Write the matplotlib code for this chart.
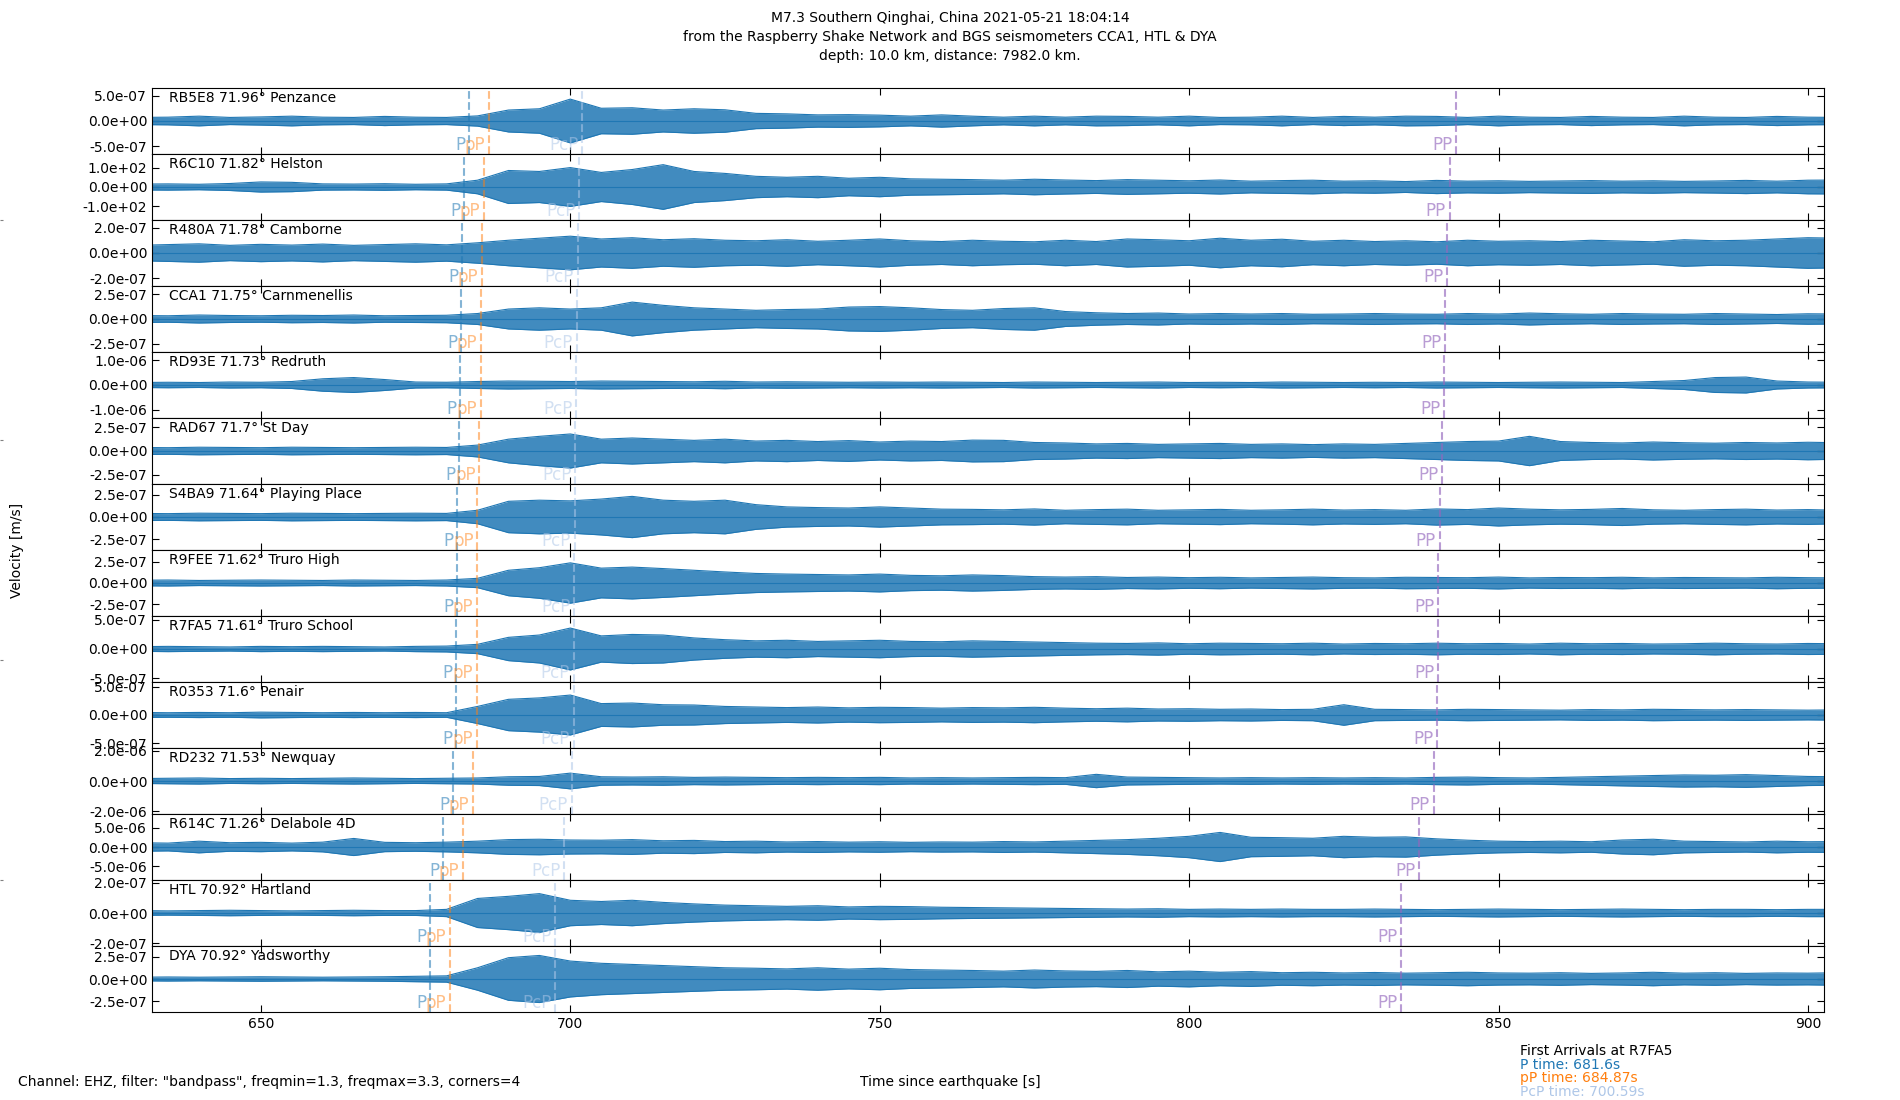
import numpy as np
import matplotlib.pyplot as plt
from matplotlib.ticker import FormatStrFormatter

# Stations (top to bottom)
codes = ['RB5E8', 'R6C10', 'R480A', 'CCA1', 'RD93E', 'RAD67', 'S4BA9',
         'R9FEE', 'R7FA5', 'R0353', 'RD232', 'R614C', 'HTL', 'DYA']
distances = ['71.96', '71.82', '71.78', '71.75', '71.73', '71.7', '71.64',
             '71.62', '71.61', '71.6', '71.53', '71.26', '70.92', '70.92']
places = ['Penzance', 'Helston', 'Camborne', 'Carnmenellis', 'Redruth', 'St Day',
          'Playing Place', 'Truro High', 'Truro School', 'Penair', 'Newquay',
          'Delabole 4D', 'Hartland', 'Yadsworthy']

# labelled y tick value and y-axis half range per station
tick_vals = [5e-7, 1e2, 2e-7, 2.5e-7, 1e-6, 2.5e-7, 2.5e-7,
             2.5e-7, 5e-7, 5e-7, 2e-6, 5e-6, 2e-7, 2.5e-7]
y_half = [6.48e-7, 170, 2.59e-7, 3.32e-7, 1.33e-6, 3.49e-7, 3.68e-7,
          3.89e-7, 5.67e-7, 5.79e-7, 2.18e-6, 8.5e-6, 2.18e-7, 3.68e-7]

# phase arrival times [s]
p_times = [683.7, 682.8, 682.5, 682.3, 682.2, 682.0, 681.7,
           681.65, 681.6, 681.55, 681.0, 679.5, 677.4, 677.4]
pP_times = [686.9, 686.1, 685.7, 685.55, 685.5, 685.3, 685.0,
            684.9, 684.87, 684.85, 684.25, 682.7, 680.6, 680.6]
pcp_times = [701.9, 701.45, 701.2, 701.07, 700.97, 700.8, 700.7,
             700.62, 700.59, 700.52, 700.2, 699.05, 697.6, 697.6]
PP_times = [843.2, 842.1, 841.7, 841.4, 841.2, 840.9, 840.5,
            840.3, 840.25, 840.1, 839.5, 837.2, 834.3, 834.3]

# trace envelope (peak amplitude) every 5 s from 630 s to 905 s,
# as a multiple of each station's labelled tick value
env_times = np.arange(630, 906, 5)
envelopes = [
    [0.14, 0.15, 0.19, 0.14, 0.16, 0.19, 0.15, 0.14, 0.18, 0.15, 0.14,
     0.20, 0.43, 0.48, 0.86, 0.50, 0.52, 0.43, 0.48, 0.44, 0.30,
     0.28, 0.24, 0.25, 0.23, 0.19, 0.24,
     0.19, 0.15, 0.19, 0.15, 0.19, 0.18, 0.15, 0.19, 0.14, 0.15, 0.19, 0.14, 0.18, 0.15,
     0.19, 0.18, 0.14, 0.19, 0.15, 0.14, 0.18, 0.15, 0.14, 0.19, 0.15, 0.14, 0.18, 0.15, 0.14],
    [0.15, 0.16, 0.14, 0.18, 0.26, 0.24, 0.16, 0.15, 0.17, 0.14, 0.16,
     0.35, 0.85, 0.80, 1.00, 0.75, 0.90, 1.15, 0.80, 0.70, 0.55,
     0.50, 0.55, 0.45, 0.50, 0.42, 0.40,
     0.38, 0.35, 0.40, 0.36, 0.33, 0.38, 0.35, 0.32, 0.36, 0.30, 0.33, 0.35, 0.30, 0.32,
     0.28, 0.34, 0.30, 0.32, 0.29, 0.31, 0.33, 0.30, 0.32, 0.29, 0.31, 0.34, 0.30, 0.35, 0.36],
    [0.30, 0.33, 0.36, 0.30, 0.34, 0.31, 0.35, 0.30, 0.33, 0.36, 0.32,
     0.40, 0.50, 0.58, 0.66, 0.55, 0.60, 0.52, 0.56, 0.50, 0.48,
     0.52, 0.46, 0.50, 0.55, 0.48, 0.45,
     0.50, 0.46, 0.44, 0.50, 0.45, 0.55, 0.52, 0.48, 0.58, 0.50, 0.54, 0.46, 0.50, 0.45,
     0.48, 0.44, 0.50, 0.46, 0.48, 0.45, 0.50, 0.47, 0.44, 0.52, 0.48, 0.50, 0.55, 0.60, 0.58],
    [0.14, 0.13, 0.16, 0.14, 0.13, 0.15, 0.14, 0.16, 0.13, 0.14, 0.15,
     0.22, 0.40, 0.45, 0.40, 0.45, 0.68, 0.55, 0.45, 0.40, 0.35,
     0.38, 0.40, 0.48, 0.50, 0.45, 0.38,
     0.35, 0.42, 0.45, 0.30, 0.25, 0.22, 0.24, 0.20, 0.22, 0.20, 0.22, 0.19, 0.20, 0.22,
     0.20, 0.19, 0.22, 0.20, 0.24, 0.21, 0.19, 0.22, 0.20, 0.19, 0.22, 0.20, 0.18, 0.21, 0.20],
    [0.10, 0.11, 0.10, 0.12, 0.11, 0.14, 0.25, 0.30, 0.22, 0.12, 0.11,
     0.14, 0.16, 0.15, 0.14, 0.16, 0.15, 0.14, 0.13, 0.15, 0.12,
     0.13, 0.12, 0.11, 0.12, 0.11, 0.12,
     0.11, 0.10, 0.12, 0.11, 0.10, 0.11, 0.12, 0.10, 0.11, 0.10, 0.12, 0.11, 0.10, 0.11,
     0.10, 0.12, 0.11, 0.10, 0.11, 0.12, 0.11, 0.10, 0.14, 0.18, 0.30, 0.32, 0.16, 0.12, 0.11],
    [0.15, 0.14, 0.16, 0.15, 0.14, 0.16, 0.15, 0.14, 0.15, 0.16, 0.15,
     0.25, 0.50, 0.62, 0.72, 0.50, 0.55, 0.50, 0.45, 0.50, 0.42,
     0.45, 0.40, 0.44, 0.38, 0.42, 0.40,
     0.46, 0.45, 0.36, 0.34, 0.30, 0.32, 0.28, 0.30, 0.32, 0.28, 0.30, 0.27, 0.30, 0.28,
     0.32, 0.36, 0.40, 0.42, 0.62, 0.40, 0.36, 0.34, 0.38, 0.35, 0.33, 0.36, 0.34, 0.37, 0.35],
    [0.16, 0.15, 0.17, 0.16, 0.15, 0.17, 0.16, 0.15, 0.16, 0.17, 0.16,
     0.30, 0.70, 0.75, 0.72, 0.80, 0.92, 0.75, 0.70, 0.75, 0.55,
     0.45, 0.42, 0.40, 0.45, 0.40, 0.35,
     0.34, 0.32, 0.36, 0.30, 0.33, 0.35, 0.30, 0.32, 0.34, 0.30, 0.32, 0.35, 0.31, 0.33,
     0.30, 0.36, 0.33, 0.40, 0.35, 0.32, 0.34, 0.38, 0.32, 0.30, 0.33, 0.35, 0.31, 0.33, 0.30],
    [0.13, 0.14, 0.12, 0.13, 0.14, 0.13, 0.12, 0.14, 0.13, 0.12, 0.14,
     0.22, 0.60, 0.72, 0.95, 0.70, 0.75, 0.68, 0.60, 0.52, 0.45,
     0.42, 0.40, 0.38, 0.42, 0.36, 0.34,
     0.38, 0.35, 0.30, 0.28, 0.30, 0.26, 0.28, 0.25, 0.27, 0.24, 0.26, 0.28, 0.25, 0.24,
     0.27, 0.26, 0.25, 0.28, 0.24, 0.26, 0.25, 0.27, 0.24, 0.26, 0.25, 0.24, 0.27, 0.25, 0.24],
    [0.08, 0.09, 0.08, 0.07, 0.09, 0.08, 0.09, 0.08, 0.07, 0.09, 0.10,
     0.16, 0.40, 0.48, 0.72, 0.45, 0.50, 0.48, 0.38, 0.32, 0.28,
     0.30, 0.26, 0.28, 0.30, 0.26, 0.25,
     0.28, 0.26, 0.24, 0.22, 0.20, 0.19, 0.21, 0.18, 0.20, 0.19, 0.18, 0.20, 0.17, 0.19,
     0.18, 0.20, 0.18, 0.19, 0.17, 0.20, 0.18, 0.19, 0.17, 0.18, 0.20, 0.18, 0.17, 0.19, 0.18],
    [0.09, 0.08, 0.09, 0.08, 0.10, 0.09, 0.08, 0.09, 0.08, 0.09, 0.08,
     0.30, 0.55, 0.60, 0.70, 0.40, 0.42, 0.36, 0.35, 0.30, 0.28,
     0.26, 0.28, 0.25, 0.27, 0.26, 0.24,
     0.26, 0.25, 0.27, 0.24, 0.22, 0.24, 0.21, 0.22, 0.20, 0.21, 0.19, 0.20, 0.36, 0.20,
     0.19, 0.18, 0.20, 0.19, 0.18, 0.17, 0.19, 0.18, 0.20, 0.19, 0.18, 0.19, 0.18, 0.17, 0.18],
    [0.08, 0.09, 0.10, 0.08, 0.09, 0.08, 0.09, 0.10, 0.09, 0.08, 0.09,
     0.10, 0.14, 0.15, 0.26, 0.14, 0.13, 0.14, 0.12, 0.13, 0.12,
     0.11, 0.12, 0.11, 0.12, 0.10, 0.11,
     0.10, 0.11, 0.12, 0.11, 0.22, 0.13, 0.12, 0.11, 0.10, 0.11, 0.10, 0.11, 0.10, 0.11,
     0.10, 0.12, 0.13, 0.11, 0.10, 0.12, 0.14, 0.16, 0.18, 0.20, 0.19, 0.21, 0.18, 0.15, 0.14],
    [0.22, 0.20, 0.30, 0.22, 0.24, 0.20, 0.25, 0.44, 0.24, 0.22, 0.25,
     0.30, 0.38, 0.40, 0.36, 0.35, 0.38, 0.32, 0.34, 0.28, 0.30,
     0.26, 0.28, 0.25, 0.27, 0.24, 0.26,
     0.25, 0.28, 0.26, 0.30, 0.34, 0.38, 0.45, 0.55, 0.75, 0.50, 0.48, 0.45, 0.55, 0.50,
     0.52, 0.42, 0.35, 0.30, 0.28, 0.30, 0.27, 0.36, 0.40, 0.30, 0.28, 0.26, 0.30, 0.27, 0.28],
    [0.08, 0.07, 0.08, 0.09, 0.08, 0.07, 0.08, 0.09, 0.08, 0.08, 0.12,
     0.48, 0.55, 0.64, 0.42, 0.38, 0.42, 0.35, 0.30, 0.26, 0.24,
     0.22, 0.24, 0.20, 0.22, 0.21, 0.19,
     0.18, 0.17, 0.16, 0.15, 0.14, 0.13, 0.14, 0.12, 0.13, 0.12, 0.13, 0.12, 0.12, 0.13,
     0.12, 0.11, 0.12, 0.13, 0.12, 0.11, 0.12, 0.13, 0.12, 0.11, 0.12, 0.12, 0.11, 0.12, 0.12],
    [0.08, 0.09, 0.08, 0.09, 0.10, 0.09, 0.08, 0.09, 0.10, 0.12, 0.14,
     0.50, 0.95, 1.05, 0.80, 0.70, 0.65, 0.60, 0.55, 0.50, 0.48,
     0.45, 0.50, 0.44, 0.48, 0.42, 0.40,
     0.38, 0.35, 0.40, 0.36, 0.34, 0.38, 0.32, 0.35, 0.30, 0.33, 0.28, 0.30, 0.27, 0.29,
     0.26, 0.28, 0.30, 0.27, 0.26, 0.28, 0.25, 0.27, 0.30, 0.26, 0.28, 0.25, 0.27, 0.26, 0.28],
]

phase_cols = {'P': ('#1f77b4', 0.55), 'pP': ('#ff7f0e', 0.5),
              'PcP': ('#aec7e8', 0.55), 'PP': ('#9467bd', 0.65)}

fig, axes = plt.subplots(len(codes), 1, sharex=True, figsize=(19, 11), dpi=100)
fig.subplots_adjust(left=0.08, right=0.96, top=0.92, bottom=0.08, hspace=0)

# frameless full-figure axes (only its tiny left ticks show)
bax = fig.add_axes([0, 0, 1, 1], frameon=False, zorder=-1)
bax.set_xticks([])
bax.set_yticks([0.2, 0.4, 0.6, 0.8])
bax.tick_params(direction='in', length=2, labelleft=False, color='grey')

for i, ax in enumerate(axes):
    env = np.array(envelopes[i]) * tick_vals[i]
    ax.fill_between(env_times, -env, env, color='C0', alpha=0.85, lw=0)
    ax.plot(env_times, env, color='C0', lw=0.8)
    ax.plot(env_times, -env, color='C0', lw=0.8)
    ax.plot(env_times, np.zeros(len(env_times)), color='C0', lw=0.8)
    ax.set_ylim(-y_half[i], y_half[i])
    ax.set_yticks([-tick_vals[i], 0, tick_vals[i]])
    ax.yaxis.set_major_formatter(FormatStrFormatter('%.1e'))
    ax.tick_params(direction='in', top=True, right=True, length=5, labelsize=10)

    for name, t in [('P', p_times[i]), ('pP', pP_times[i]),
                    ('PcP', pcp_times[i]), ('PP', PP_times[i])]:
        col, a = phase_cols[name]
        ax.axvline(t, color=col, alpha=a, ls='--', lw=1.5)
        ax.text(t - 0.6, -y_half[i], name, color=col, alpha=a,
                ha='right', va='bottom', fontsize=12)

    ax.text(0.01, 0.96, f'{codes[i]} {distances[i]}\u00b0 {places[i]}',
            transform=ax.transAxes, ha='left', va='top', fontsize=10)

axes[-1].set_xlim(632.4, 902.6)
axes[-1].set_xticks([650, 700, 750, 800, 850, 900])

fig.text(0.5, 0.99, 'M7.3 Southern Qinghai, China 2021-05-21 18:04:14\n'
         'from the Raspberry Shake Network and BGS seismometers CCA1, HTL & DYA\n'
         'depth: 10.0 km, distance: 7982.0 km.',
         ha='center', va='top', linespacing=1.45, fontsize=10)
fig.text(0.009, 0.5, 'Velocity [m/s]', rotation=90, ha='center', va='center', fontsize=10)
fig.text(0.5, 0.0165, 'Time since earthquake [s]', ha='center', va='center', fontsize=10)
fig.text(0.0095, 0.0165, 'Channel: EHZ, filter: "bandpass", freqmin=1.3, freqmax=3.3, corners=4',
         ha='left', va='center', fontsize=10)

fig.text(0.8, 0.0448, 'First Arrivals at R7FA5', va='center', fontsize=10)
fig.text(0.8, 0.0318, 'P time: 681.6s', va='center', fontsize=10, color='#1f77b4')
fig.text(0.8, 0.0203, 'pP time: 684.87s', va='center', fontsize=10, color='#ff7f0e')
fig.text(0.8, 0.0075, 'PcP time: 700.59s', va='center', fontsize=10, color='#aec7e8')

fig.savefig('out.png', dpi=100)
